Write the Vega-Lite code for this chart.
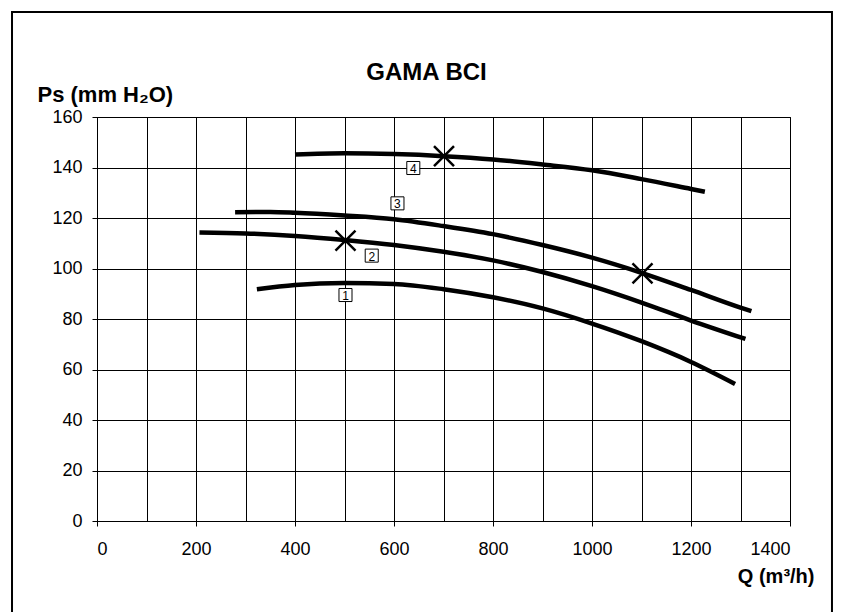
{
  "$schema": "https://vega.github.io/schema/vega-lite/v6.json",
  "width": 693,
  "height": 404,
  "autosize": "none",
  "padding": {"left": 97, "top": 117, "right": 51, "bottom": 91},
  "background": "white",
  "config": {
    "view": {"stroke": "black", "strokeWidth": 1},
    "font": "Liberation Sans"
  },
  "title": {
    "text": "GAMA BCI",
    "font": "Liberation Sans",
    "fontSize": 24,
    "fontWeight": "bold",
    "color": "black",
    "anchor": "middle",
    "frame": "group",
    "baseline": "alphabetic",
    "dx": -17,
    "dy": 132,
    "offset": 39
  },
  "datasets": {
    "curves": [
      {"curve": "1", "q": 323, "ps": 91.8},
      {"curve": "1", "q": 400, "ps": 93.5},
      {"curve": "1", "q": 500, "ps": 94.3},
      {"curve": "1", "q": 600, "ps": 93.9},
      {"curve": "1", "q": 700, "ps": 91.8},
      {"curve": "1", "q": 800, "ps": 88.6},
      {"curve": "1", "q": 900, "ps": 84.2},
      {"curve": "1", "q": 1000, "ps": 78.2},
      {"curve": "1", "q": 1100, "ps": 71.2},
      {"curve": "1", "q": 1200, "ps": 63.0},
      {"curve": "1", "q": 1289, "ps": 54.3},
      {"curve": "2", "q": 207, "ps": 114.3},
      {"curve": "2", "q": 300, "ps": 113.9},
      {"curve": "2", "q": 400, "ps": 112.9},
      {"curve": "2", "q": 500, "ps": 111.3},
      {"curve": "2", "q": 600, "ps": 109.3},
      {"curve": "2", "q": 700, "ps": 106.6},
      {"curve": "2", "q": 800, "ps": 103.2},
      {"curve": "2", "q": 900, "ps": 98.6},
      {"curve": "2", "q": 1000, "ps": 93.0},
      {"curve": "2", "q": 1100, "ps": 86.5},
      {"curve": "2", "q": 1200, "ps": 79.4},
      {"curve": "2", "q": 1310, "ps": 72.1},
      {"curve": "3", "q": 279, "ps": 122.3},
      {"curve": "3", "q": 350, "ps": 122.4},
      {"curve": "3", "q": 400, "ps": 122.1},
      {"curve": "3", "q": 500, "ps": 121.0},
      {"curve": "3", "q": 600, "ps": 119.5},
      {"curve": "3", "q": 700, "ps": 116.8},
      {"curve": "3", "q": 800, "ps": 113.6},
      {"curve": "3", "q": 900, "ps": 109.3},
      {"curve": "3", "q": 1000, "ps": 104.3},
      {"curve": "3", "q": 1100, "ps": 98.3},
      {"curve": "3", "q": 1200, "ps": 91.5},
      {"curve": "3", "q": 1300, "ps": 84.5},
      {"curve": "3", "q": 1322, "ps": 83.1},
      {"curve": "4", "q": 400, "ps": 145.1},
      {"curve": "4", "q": 500, "ps": 145.6},
      {"curve": "4", "q": 600, "ps": 145.3},
      {"curve": "4", "q": 700, "ps": 144.5},
      {"curve": "4", "q": 800, "ps": 143.2},
      {"curve": "4", "q": 900, "ps": 141.2},
      {"curve": "4", "q": 1000, "ps": 138.9},
      {"curve": "4", "q": 1100, "ps": 135.4},
      {"curve": "4", "q": 1200, "ps": 131.5},
      {"curve": "4", "q": 1228, "ps": 130.4}
    ],
    "markers": [
      {"q": 502, "ps": 111.0},
      {"q": 701, "ps": 144.5},
      {"q": 1102, "ps": 98.1}
    ],
    "labels": [
      {"label": "1", "q": 502, "ps": 89.5},
      {"label": "2", "q": 555, "ps": 105.1},
      {"label": "3", "q": 607, "ps": 125.8},
      {"label": "4", "q": 639, "ps": 139.8}
    ],
    "border": [{"part": "border"}]
  },
  "layer": [
    {
      "data": {"name": "border"},
      "mark": {"type": "rect", "filled": false, "stroke": "black", "strokeWidth": 2},
      "encoding": {
        "x": {"datum": -171.7, "type": "quantitative"},
        "x2": {"datum": 1484.8},
        "y": {"datum": 201.6, "type": "quantitative"},
        "y2": {"datum": -41}
      }
    },
    {
      "data": {"name": "curves"},
      "mark": {"type": "line", "color": "black", "strokeWidth": 4.5, "interpolate": "monotone", "strokeCap": "butt"},
      "encoding": {
        "x": {
          "field": "q",
          "type": "quantitative",
          "title": "Q (m³/h)",
          "scale": {"domain": [0, 1400], "nice": false, "zero": false},
          "axis": {
            "values": [0, 100, 200, 300, 400, 500, 600, 700, 800, 900, 1000, 1100, 1200, 1300, 1400],
            "format": "d",
            "labelExpr": "datum.value % 200 === 0 ? datum.label : ''",
            "grid": true,
            "gridColor": "black",
            "gridWidth": 1,
            "gridOpacity": 1,
            "domainColor": "black",
            "tickColor": "black",
            "tickSize": 5,
            "tickOpacity": {"condition": {"test": "datum.value % 200 === 0", "value": 1}, "value": 0},
            "labelFont": "Liberation Sans",
            "labelFontSize": 18,
            "labelColor": "black",
            "labelPadding": 14,
            "labelBaseline": "top",
            "titleFont": "Liberation Sans",
            "titleFontSize": 20,
            "titleFontWeight": "bold",
            "titleColor": "black",
            "titleAlign": "right",
            "titleAnchor": "end",
            "titleBaseline": "alphabetic",
            "titleX": 717,
            "titleY": 61
          }
        },
        "y": {
          "field": "ps",
          "type": "quantitative",
          "title": "Ps (mm H₂O)",
          "scale": {"domain": [0, 160], "nice": false, "zero": false},
          "axis": {
            "values": [0, 10, 20, 30, 40, 50, 60, 70, 80, 90, 100, 110, 120, 130, 140, 150, 160],
            "format": "d",
            "labelExpr": "datum.value % 20 === 0 ? datum.label : ''",
            "grid": true,
            "gridColor": "black",
            "gridWidth": 1,
            "gridOpacity": 1,
            "domainColor": "black",
            "tickColor": "black",
            "tickSize": 5,
            "tickOpacity": {"condition": {"test": "datum.value % 20 === 0", "value": 1}, "value": 0},
            "labelFont": "Liberation Sans",
            "labelFontSize": 18,
            "labelColor": "black",
            "labelPadding": 10,
            "titleFont": "Liberation Sans",
            "titleFontSize": 22,
            "titleFontWeight": "bold",
            "titleColor": "black",
            "titleAngle": 0,
            "titleAlign": "left",
            "titleBaseline": "alphabetic",
            "titleX": -60,
            "titleY": -16
          }
        },
        "detail": {"field": "curve", "type": "nominal"}
      }
    },
    {
      "data": {"name": "markers"},
      "mark": {"type": "point", "shape": "M-1,-1L1,1M-1,1L1,-1", "size": 400, "filled": false, "stroke": "black", "strokeWidth": 2.5, "opacity": 1},
      "encoding": {
        "x": {"field": "q", "type": "quantitative", "title": "Q (m³/h)"},
        "y": {"field": "ps", "type": "quantitative", "title": "Ps (mm H₂O)"}
      }
    },
    {
      "data": {"name": "labels"},
      "mark": {"type": "point", "shape": "square", "size": 170, "filled": true, "fill": "white", "stroke": "black", "strokeWidth": 1, "opacity": 1},
      "encoding": {
        "x": {"field": "q", "type": "quantitative", "title": "Q (m³/h)"},
        "y": {"field": "ps", "type": "quantitative", "title": "Ps (mm H₂O)"}
      }
    },
    {
      "data": {"name": "labels"},
      "mark": {"type": "text", "font": "Liberation Sans", "fontSize": 12, "color": "black", "align": "center", "baseline": "middle", "dy": 1},
      "encoding": {
        "x": {"field": "q", "type": "quantitative", "title": "Q (m³/h)"},
        "y": {"field": "ps", "type": "quantitative", "title": "Ps (mm H₂O)"},
        "text": {"field": "label", "type": "nominal"}
      }
    }
  ]
}
